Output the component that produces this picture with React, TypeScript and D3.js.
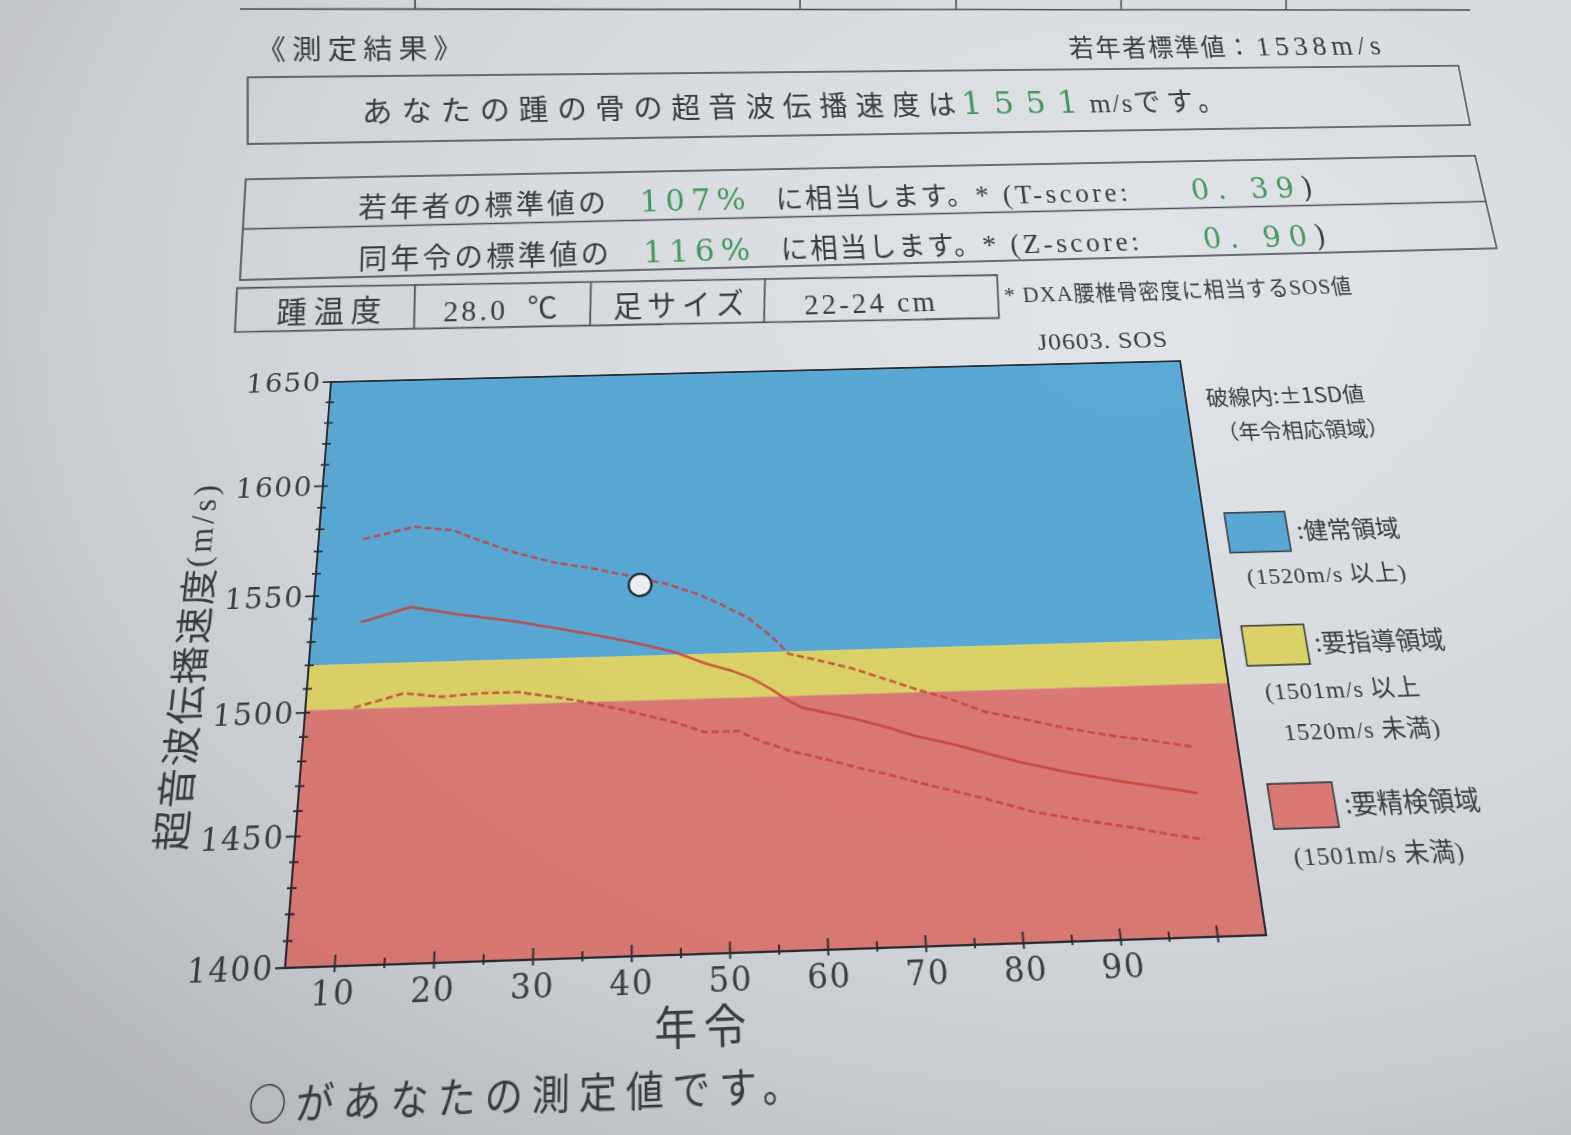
import React from 'react';
import * as d3 from 'd3';

const W = 1571;
const H = 1135;

// ---------------- data ----------------
const upperAge = [10, 15.6, 20, 22.4, 27, 31.5, 35.6, 40, 44, 47.5, 49.6, 52.9, 54.7, 56.1, 57.2, 59.3, 64, 67.6, 71.1, 74.7, 78.1, 81.7, 86.9, 92.2, 95.7, 100];
const upperSOS = [1575, 1580, 1578, 1574, 1567, 1562, 1559, 1555, 1551, 1546, 1542, 1535, 1529, 1524, 1519, 1517, 1512, 1507, 1502, 1497.5, 1492, 1489, 1484, 1480, 1478, 1475];
const meanAge = [10.3, 15.7, 21.3, 27.2, 32.3, 36.7, 41.1, 44.8, 48, 50.9, 53.1, 55.2, 57, 58.4, 63.7, 67.2, 70.7, 74.3, 77.7, 81.2, 86.4, 91.6, 95.8, 100];
const meanSOS = [1538, 1544, 1540, 1536.5, 1532.5, 1529, 1525, 1521, 1516, 1512.5, 1509, 1504, 1499, 1496, 1491, 1487, 1482.5, 1479, 1475, 1471, 1466, 1462, 1459, 1456];
const lowerAge = [10.2, 15.5, 19.5, 23.8, 27.8, 32.5, 35.7, 40.4, 45, 47.9, 51.5, 53.9, 57.1, 60.6, 64.1, 67.6, 71.1, 77.3, 82.4, 87.6, 92.7, 96.2, 100];
const lowerSOS = [1501.5, 1507, 1505, 1506, 1506, 1503, 1500.5, 1496, 1491, 1487, 1487, 1482.5, 1478, 1474.5, 1470.5, 1467, 1463, 1456.5, 1450.5, 1446.5, 1443, 1440, 1437.5];
const myAge = [41];
const mySOS = [1551];

const xDomain = [5, 105];
const yDomain = [1400, 1650];
const xTickLabels = [10, 20, 30, 40, 50, 60, 70, 80, 90];
const xTickMajor = [10, 20, 30, 40, 50, 60, 70, 80, 90, 100];
const yTickLabels = [1400, 1450, 1500, 1550, 1600, 1650];
const zoneEdges = [1650, 1520, 1501, 1400];
const zoneColors = ['#5aa9d5', '#dcd468', '#dc7a74'];
const legendNames = [':健常領域', ':要指導領域', ':要精検領域'];
const legendRanges = [['(1520m/s 以上)'], ['(1501m/s 以上', '1520m/s 未満)'], ['(1501m/s 未満)']];

// ---------------- styles ----------------
const JP = "'Noto Sans CJK JP', sans-serif";
const SERIF = "'DejaVu Serif', serif";
const TIMES = "'Liberation Serif', 'Noto Sans CJK JP', serif";
const INK = '#3a3d43';
const GREEN = '#44995f';
const FRAME = '#2a2d34';
const CURVE = '#c93e38';

// ---------------- projective helpers (paper photographed at an angle) ----------------
type Pt = [number, number];
function solve(A: number[][], b: number[]): number[] {
  const n = b.length;
  const M = A.map((r, i) => [...r, b[i]]);
  for (let c = 0; c < n; c++) {
    let p = c;
    for (let r = c + 1; r < n; r++) if (Math.abs(M[r][c]) > Math.abs(M[p][c])) p = r;
    const tmp = M[c]; M[c] = M[p]; M[p] = tmp;
    for (let r = 0; r < n; r++) {
      if (r === c) continue;
      const f = M[r][c] / M[c][c];
      for (let k = c; k <= n; k++) M[r][k] -= f * M[c][k];
    }
  }
  return M.map((r, i) => r[n] / r[i]);
}
function homography(src: Pt[], dst: Pt[]): number[][] {
  const A: number[][] = [];
  const b: number[] = [];
  for (let i = 0; i < 4; i++) {
    const [x, y] = src[i];
    const [X, Y] = dst[i];
    A.push([x, y, 1, 0, 0, 0, -x * X, -y * X]); b.push(X);
    A.push([0, 0, 0, x, y, 1, -x * Y, -y * Y]); b.push(Y);
  }
  const s = solve(A, b);
  return [[s[0], s[1], s[2]], [s[3], s[4], s[5]], [s[6], s[7], 1]];
}
function inv3(m: number[][]): number[][] {
  const [[a, b, c], [d, e, f], [g, h, i]] = m;
  const A = e * i - f * h, B = -(d * i - f * g), C = d * h - e * g;
  const D = -(b * i - c * h), E = a * i - c * g, F = -(a * h - b * g);
  const G = b * f - c * e, Hh = -(a * f - c * d), I = a * e - b * d;
  const det = a * A + b * B + c * C;
  return [[A / det, D / det, G / det], [B / det, E / det, Hh / det], [C / det, F / det, I / det]];
}
function makeLayer(rect: [number, number, number, number], quad: Pt[]) {
  const [x0, y0, x1, y1] = rect;
  const Hm = homography([[x0, y0], [x1, y0], [x1, y1], [x0, y1]], quad);
  const Hi = inv3(Hm);
  const p = (X: number, Y: number): Pt => {
    const w = Hi[2][0] * X + Hi[2][1] * Y + Hi[2][2];
    return [(Hi[0][0] * X + Hi[0][1] * Y + Hi[0][2]) / w, (Hi[1][0] * X + Hi[1][1] * Y + Hi[1][2]) / w];
  };
  const [[a, b, c], [d, e, f], [g, h]] = Hm;
  const css = `matrix3d(${a},${d},0,${g},${b},${e},0,${h},0,0,1,0,${c},${f},0,1)`;
  return { p, css, rect };
}

// header box, result table and chart each get their own plane
const L0 = makeLayer([247, 72, 1464, 136], [[247.7, 77.3], [1458.3, 65.7], [1470, 125], [247.7, 144]]);
const L1 = makeLayer([243, 168, 1486, 265], [[245.7, 179.3], [1475, 155.7], [1496.7, 248.3], [240, 280]]);
const PL = 308, PR = 1218, PT = 375, PB = 958;
const LC = makeLayer([PL, PT, PR, PB], [[331, 382], [1180, 361], [1266, 935], [285, 968]]);

type LayerT = ReturnType<typeof makeLayer>;

function Layer({ L, h, children }: { L: LayerT; h: number; children: React.ReactNode }) {
  return (
    <svg
      width={1600}
      height={h}
      style={{ position: 'absolute', left: 0, top: 0, overflow: 'visible', transformOrigin: '0 0', transform: L.css }}
    >
      {children}
    </svg>
  );
}

function T({ L, at, children, ...rest }: any) {
  const [x, y] = L.p(at[0], at[1]);
  return (
    <text x={x} y={y} fill={INK} {...rest}>
      {children}
    </text>
  );
}

function Seg({ L, a, b, ...rest }: any) {
  const [x1, y1] = L.p(a[0], a[1]);
  const [x2, y2] = L.p(b[0], b[1]);
  return <line x1={x1} y1={y1} x2={x2} y2={y2} stroke="#4c4f56" strokeWidth={1.6} {...rest} />;
}

function Poly({ L, pts, ...rest }: any) {
  const s = pts.map((q: Pt) => L.p(q[0], q[1]).join(',')).join(' ');
  return <polygon points={s} fill="none" stroke="#4c4f56" strokeWidth={1.6} {...rest} />;
}

function Header() {
  const lineY = (x: number) => 9 + (1 * (x - 240)) / 1230;
  const [bx0, by0, bx1, by1] = L0.rect;
  return (
    <Layer L={L0} h={240}>
      <Seg L={L0} a={[240, lineY(240)]} b={[1470, lineY(1470)]} />
      {[415, 800, 956, 1121, 1286].map((x) => (
        <Seg key={x} L={L0} a={[x, -12]} b={[x, lineY(x)]} />
      ))}
      <T L={L0} at={[256, 60]} fontFamily={JP} fontSize={27} letterSpacing={5.5}>《測定結果》</T>
      <T L={L0} at={[1070, 57]} fontFamily={JP} fontSize={26} letterSpacing={2}>
        若年者標準値：
        <tspan dx={4} fontFamily={TIMES} fontSize={30} letterSpacing={5.5}>1538m/s</tspan>
      </T>
      <rect x={bx0} y={by0} width={bx1 - bx0} height={by1 - by0} fill="none" stroke="#4c4f56" strokeWidth={1.6} />
      <T L={L0} at={[362, 123]} fontFamily={JP} fontSize={28} letterSpacing={8.2}>
        あなたの踵の骨の超音波伝播速度は
        <tspan dx={-2} fontFamily={SERIF} fontSize={32} letterSpacing={12.5} fill={GREEN}>1551</tspan>
        <tspan fontFamily={TIMES} fontSize={28} letterSpacing={2}>m/s</tspan>
        <tspan fontFamily={JP} fontSize={28} letterSpacing={7}>です。</tspan>
      </T>
    </Layer>
  );
}

function ResultTable() {
  const [x0, y0, x1, y1] = L1.rect;
  const rows = [
    { at: [358, 218], a: '若年者の標準値の', pct: '107%', score: '* (T-score:', val: '0. 39)' },
    { at: [358, 270], a: '同年令の標準値の', pct: '116%', score: '* (Z-score:', val: '0. 90)' },
  ];
  const topY = (x: number) => 288 - (13 * (x - 237)) / 760;
  const botY = (x: number) => 332 - (14 * (x - 235)) / 764;
  return (
    <Layer L={L1} h={420}>
      <rect x={x0} y={y0} width={x1 - x0} height={y1 - y0} fill="none" stroke="#4c4f56" strokeWidth={1.6} />
      <line x1={x0} x2={x1} y1={(y0 + y1) / 2} y2={(y0 + y1) / 2} stroke="#4c4f56" strokeWidth={1.6} />
      {rows.map((r) => (
        <T key={r.a} L={L1} at={r.at} fontFamily={JP} fontSize={27} letterSpacing={3}>
          {r.a}
          <tspan dx={30} fontFamily={SERIF} fontSize={30} letterSpacing={6} fill={GREEN}>{r.pct}</tspan>
          <tspan dx={24} fontFamily={JP} fontSize={27} letterSpacing={2}>に相当します。</tspan>
          <tspan fontFamily={TIMES} fontSize={28} letterSpacing={3.5}>{r.score}</tspan>
          <tspan dx={63} fontFamily={SERIF} fontSize={30} letterSpacing={8}>
            <tspan fill={GREEN}>{r.val.slice(0, -1)}</tspan>
            <tspan fill={INK}>)</tspan>
          </tspan>
        </T>
      ))}
      <Poly L={L1} pts={[[237, 288], [997, 275], [999, 318], [235, 332]]} />
      {[415, 591, 765].map((x) => (
        <Seg key={x} L={L1} a={[x, topY(x)]} b={[x - 1, botY(x)]} />
      ))}
      <T L={L1} at={[276, 324]} fontFamily={JP} fontSize={28} letterSpacing={6}>踵温度</T>
      <T L={L1} at={[443, 322]} fontFamily={TIMES} fontSize={28} letterSpacing={3}>
        28.0<tspan dx={18} fontFamily={JP}>℃</tspan>
      </T>
      <T L={L1} at={[613, 318]} fontFamily={JP} fontSize={28} letterSpacing={5}>足サイズ</T>
      <T L={L1} at={[805, 315]} fontFamily={TIMES} fontSize={28} letterSpacing={3}>22-24 cm</T>
      <T L={L1} at={[1005, 303]} fontFamily={TIMES} fontSize={22} letterSpacing={1}>
        * DXA<tspan fontFamily={JP} fontSize={21}>腰椎骨密度に相当する</tspan>SOS<tspan fontFamily={JP} fontSize={21}>値</tspan>
      </T>
    </Layer>
  );
}

function Chart() {
  const x = d3.scaleLinear().domain(xDomain).range([PL, PR]);
  const y = d3.scaleLinear().domain(yDomain).range([PB, PT]);
  const line = d3.line<[number, number]>().x((d) => x(d[0])).y((d) => y(d[1]));
  const zip = (a: number[], b: number[]) => a.map((v, i) => [v, b[i]] as [number, number]);
  const yTicks = d3.range(yDomain[0], yDomain[1] + 1, 10);
  const xTicks = d3.range(10, 101, 5);
  const [tx, ty] = LC.p(188, 658);
  const [ax, ay] = LC.p(704, 1043);
  const boxes: [number, number, number, number][] = [
    [1224, 513, 1291, 551],
    [1241, 626, 1310, 664],
    [1267, 784, 1339, 827],
  ];
  const nameAt: Pt[] = [[1298, 539], [1316, 652], [1346, 814]];
  const rangeAt: Pt[][] = [[[1248, 584]], [[1266, 700], [1285, 740]], [[1295, 865]]];
  const curve = { fill: 'none', stroke: CURVE, strokeOpacity: 0.8, strokeWidth: 2.6 };
  return (
    <Layer L={LC} h={1200}>
      {zoneColors.map((c, i) => (
        <rect key={c} x={PL} width={PR - PL} y={y(zoneEdges[i])} height={y(zoneEdges[i + 1]) - y(zoneEdges[i])} fill={c} />
      ))}
      <path d={line(zip(upperAge, upperSOS)) || ''} {...curve} strokeDasharray="7 3.5" />
      <path d={line(zip(meanAge, meanSOS)) || ''} {...curve} />
      <path d={line(zip(lowerAge, lowerSOS)) || ''} {...curve} strokeDasharray="7 3.5" />
      {myAge.map((a, i) => (
        <circle key={a} cx={x(a)} cy={y(mySOS[i])} r={11.5} fill="#eef0f2" stroke="#1c2230" strokeWidth={2.2} />
      ))}
      <rect x={PL} y={PT} width={PR - PL} height={PB - PT} fill="none" stroke={FRAME} strokeWidth={2} />
      {yTicks.map((v) => {
        const major = v % 50 === 0;
        return <line key={v} x1={PL - (major ? 9 : 4)} x2={PL + 5} y1={y(v)} y2={y(v)} stroke={FRAME} strokeWidth={1.8} />;
      })}
      {xTicks.map((a) => {
        const major = xTickMajor.includes(a);
        return <line key={a} x1={x(a)} x2={x(a)} y1={PB - (major ? 10 : 6)} y2={PB + (major ? 5 : 3)} stroke={FRAME} strokeWidth={1.8} />;
      })}
      {yTickLabels.map((v) => (
        <text key={v} x={PL - 10} y={y(v) + 10.5} textAnchor="end" fontFamily={SERIF} fontSize={29} letterSpacing={1.5} fill={INK}>
          {v}
        </text>
      ))}
      {xTickLabels.map((a) => (
        <text key={a} x={x(a)} y={PB + 33} textAnchor="middle" fontFamily={SERIF} fontSize={30} letterSpacing={1.5} fill={INK}>
          {a}
        </text>
      ))}
      <text x={ax} y={ay} textAnchor="middle" fontFamily={JP} fontSize={39} letterSpacing={6} fill={INK}>年令</text>
      <text
        transform={`translate(${tx},${ty}) rotate(-90)`}
        textAnchor="middle"
        dominantBaseline="central"
        fontFamily={JP}
        fontSize={38}
        letterSpacing={1.5}
        fill={INK}
      >
        超音波伝播速度<tspan fontFamily={TIMES} fontSize={34} letterSpacing={4}>(m/s)</tspan>
      </text>
      <T L={LC} at={[1038, 350]} fontFamily={TIMES} fontSize={28} letterSpacing={1}>J0603. SOS</T>
      <T L={LC} at={[1207, 405]} fontFamily={JP} fontSize={24}>破線内:±1SD値</T>
      <T L={LC} at={[1218, 440]} fontFamily={JP} fontSize={23}>（年令相応領域）</T>
      {boxes.map((b, i) => {
        const [x0, y0] = LC.p(b[0], b[1]);
        const [x1, y1] = LC.p(b[2], b[3]);
        return <rect key={i} x={x0} y={y0} width={x1 - x0} height={y1 - y0} fill={zoneColors[i]} stroke="#3a3d44" strokeWidth={1.6} />;
      })}
      {legendNames.map((n, i) => (
        <T key={n} L={LC} at={nameAt[i]} fontFamily={JP} fontSize={25}>{n}</T>
      ))}
      {legendRanges.map((lines, i) =>
        lines.map((s, j) => (
          <T key={s + i} L={LC} at={rangeAt[i][j]} fontFamily={TIMES} fontSize={24} letterSpacing={1}>{s}</T>
        ))
      )}
      <T L={LC} at={[247, 1121]} fontFamily={JP} fontSize={34} letterSpacing={8}>○があなたの測定値です。</T>
    </Layer>
  );
}

export default function App() {
  return (
    <div style={{ position: 'fixed', left: 0, top: 0, width: W, height: H, overflow: 'hidden', background: '#d4d7db' }}>
      <svg width={W} height={H} style={{ position: 'absolute', left: 0, top: 0 }}>
        <defs>
          <radialGradient id="paper" cx="0.72" cy="0.25" r="0.95">
            <stop offset="0" stopColor="#e1e4e8" />
            <stop offset="0.55" stopColor="#d6d9dd" />
            <stop offset="1" stopColor="#c2c5ca" />
          </radialGradient>
        </defs>
        <rect width={W} height={H} fill="url(#paper)" />
      </svg>
      <Header />
      <ResultTable />
      <Chart />
      <svg width={W} height={H} style={{ position: 'absolute', left: 0, top: 0, pointerEvents: 'none' }}>
        <defs>
          <radialGradient id="vig" cx="0.72" cy="0.3" r="0.95">
            <stop offset="0" stopColor="#000" stopOpacity={0} />
            <stop offset="0.7" stopColor="#000" stopOpacity={0.02} />
            <stop offset="1" stopColor="#000" stopOpacity={0.08} />
          </radialGradient>
        </defs>
        <rect width={W} height={H} fill="url(#vig)" />
      </svg>
    </div>
  );
}
